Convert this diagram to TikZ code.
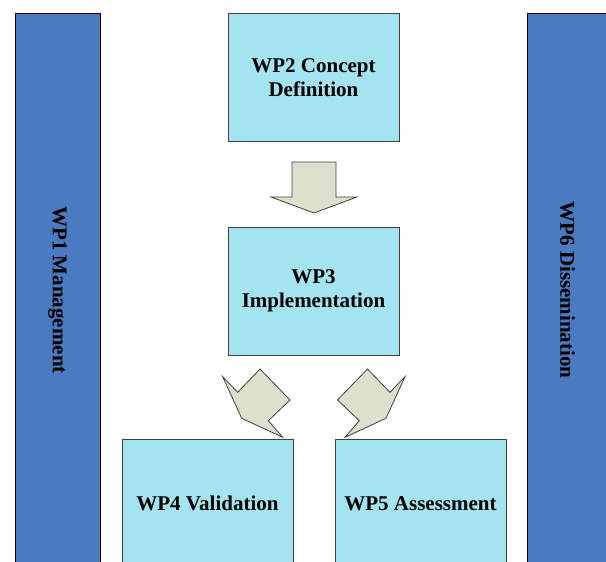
\documentclass[tikz,border=0pt]{standalone}
\usepackage{fontspec}
\setmainfont{Liberation Serif}
\usepackage{xcolor}

\definecolor{barblue}{RGB}{74,122,192}
\definecolor{boxcyan}{RGB}{164,228,240}
\definecolor{flowgrey}{RGB}{221,224,204}

\begin{document}
\begin{tikzpicture}[x=1pt, y=-1pt,
  wpbar/.style={draw=black, fill=barblue, line width=1pt, minimum width=85pt,
    minimum height=554pt, inner sep=0pt, outer sep=0pt},
  wplabel/.style={rotate=-90, font=\fontsize{21}{24}\selectfont\bfseries},
  wpbox/.style={draw=black!75, fill=boxcyan, line width=0.8pt, minimum width=171pt,
    minimum height=128pt, align=center, outer sep=0pt,
    font=\fontsize{21}{24}\selectfont\bfseries},
  flow/.style={draw=black!75, fill=flowgrey, line width=0.8pt, line join=miter}]
  \useasboundingbox (0,0) rectangle (606,562);
  \clip (0,0) rectangle (606,562);

  % side bars
  \node[wpbar] (wp1) at (57.5,290) {};
  \node[wplabel] (wp1l) at (wp1.center) {WP1 Management};
  \node[wpbar] (wp6) at (569.5,290) {};
  \node[wplabel] (wp6l) at ([xshift=-2pt]wp6.center) {WP6 Dissemination};

  % work packages
  \node[wpbox] (wp2) at (313.5,77.5) {WP2 Concept\\Definition};
  \node[wpbox] (wp3) at (313.5,291) {WP3\\Implementation};
  \node[wpbox] (wp4) at (207.5,503.5) {WP4 Validation};
  \node[wpbox] (wp5) at (420.5,503.5) {WP5 Assessment};

  % block arrows
  \draw[flow] (292,162) -- (336,162) -- (336,197) -- (357,197) -- (314,213)
    -- (271,197) -- (292,197) -- cycle;
  \draw[flow] (222.7,376.7) -- (237.7,392.3) -- (260,369) -- (290,400)
    -- (268.3,420.7) -- (282.7,437.3) -- (241.7,418.3) -- cycle;
  \draw[flow] (405,376.7) -- (390,392.3) -- (367.5,369) -- (337.5,400)
    -- (359.3,420.7) -- (345,437.3) -- (386,418.3) -- cycle;
\end{tikzpicture}
\end{document}
